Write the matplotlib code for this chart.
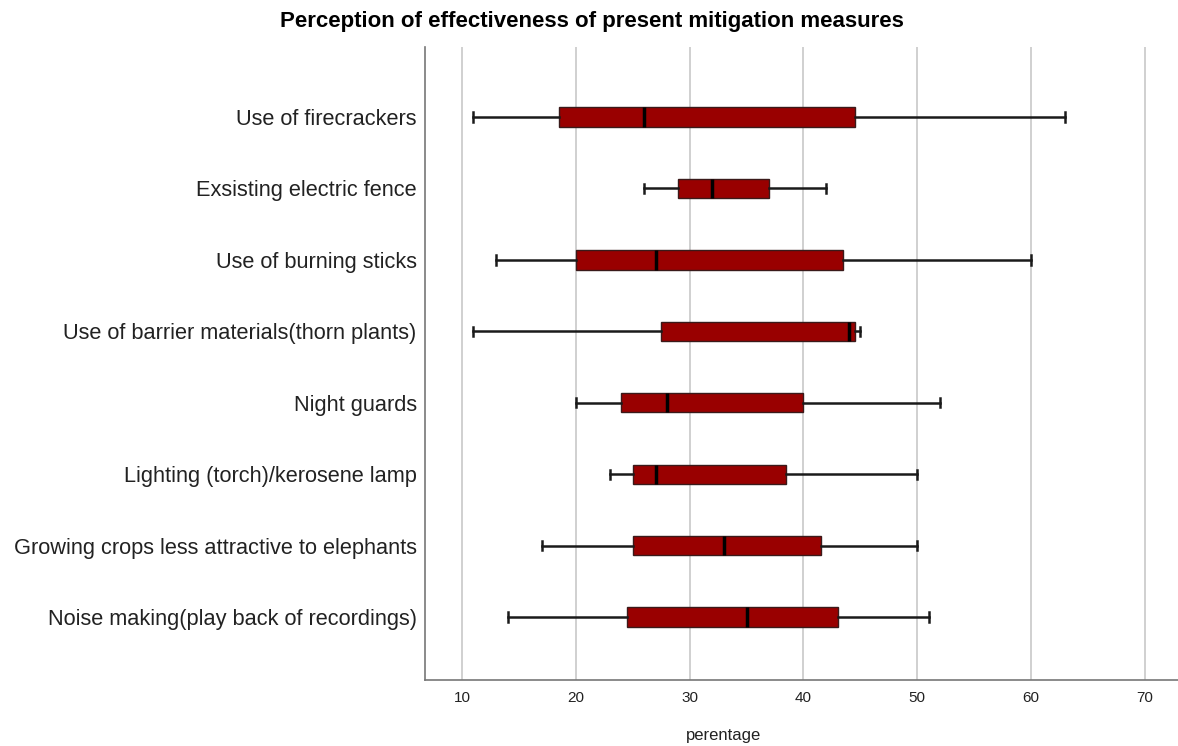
import matplotlib
matplotlib.use("Agg")
import matplotlib.pyplot as plt

# categories, top to bottom
measures = [
    "Use of firecrackers",
    "Exsisting electric fence",
    "Use of burning sticks",
    "Use of barrier materials(thorn plants)",
    "Night guards",
    "Lighting (torch)/kerosene lamp",
    "Growing crops less attractive to elephants",
    "Noise making(play back of recordings)",
]

# five number summaries (percentage)
whisker_low = [11, 26, 13, 11, 20, 23, 17, 14]
q1 = [18.5, 29, 20, 27.5, 24, 25, 25, 24.5]
median = [26, 32, 27, 44, 28, 27, 33, 35]
q3 = [44.5, 37, 43.5, 44.5, 40, 38.5, 41.5, 43]
whisker_high = [63, 42, 60, 45, 52, 50, 50, 51]

xticks = [10, 20, 30, 40, 50, 60, 70]

plt.rcParams['font.family'] = ['Liberation Sans', 'DejaVu Sans']

fig = plt.figure(figsize=(11.78, 7.46), dpi=100)
ax = fig.add_axes([425 / 1178, 1 - 680 / 746, 753 / 1178, 633 / 746])

stats = []
for i in range(len(measures)):
    stats.append({
        'label': measures[i],
        'whislo': whisker_low[i],
        'q1': q1[i],
        'med': median[i],
        'q3': q3[i],
        'whishi': whisker_high[i],
        'fliers': [],
    })

ax.bxp(stats, positions=range(len(measures)), vert=False, widths=0.27,
       capwidths=0.13, patch_artist=True, showfliers=False,
       boxprops=dict(facecolor='#990000', edgecolor='#3a1a1a', linewidth=1.0),
       medianprops=dict(color='black', linewidth=2.5),
       whiskerprops=dict(color='#1a1a1a', linewidth=1.8),
       capprops=dict(color='#1a1a1a', linewidth=1.8),
       zorder=3)

ax.set_xlim(6.75, 72.9)
ax.set_ylim(7.88, -0.98)
ax.set_xticks(xticks)
ax.set_xticklabels([str(t) for t in xticks])
ax.tick_params(axis='x', length=0, pad=8, labelsize=11, labelcolor='#222222')
ax.tick_params(axis='y', length=0, pad=6, labelsize=15.7, labelcolor='#222222')

ax.grid(axis='x', color='#c8c8c8', linewidth=1.2, zorder=0)
ax.set_axisbelow(True)

for side in ['top', 'right']:
    ax.spines[side].set_visible(False)
for side in ['left', 'bottom']:
    ax.spines[side].set_color('#777777')
    ax.spines[side].set_linewidth(1.2)

ax.set_xlabel("perentage", fontsize=12, color='#222222')
ax.xaxis.set_label_coords(0.396, -0.087)
ax.xaxis.label.set_va('center')

fig.text(592 / 1178, 1 - 22 / 746, "Perception of effectiveness of present mitigation measures",
         ha='center', va='center', fontsize=16, fontweight='bold', color='black')

fig.savefig("out.png", dpi=100)
